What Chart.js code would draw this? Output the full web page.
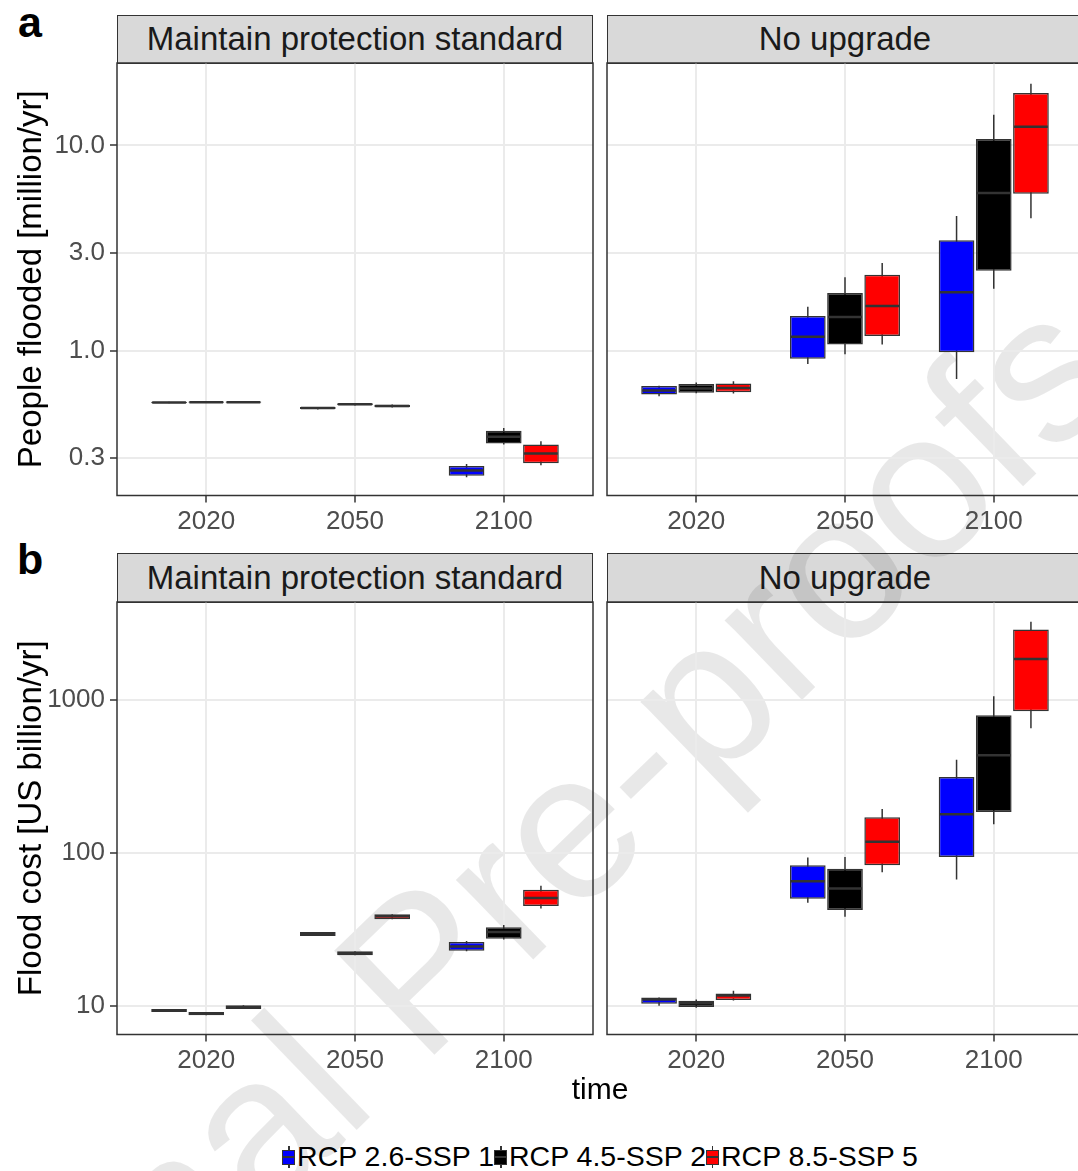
<!DOCTYPE html>
<html>
<head>
<meta charset="utf-8">
<script src="https://cdn.jsdelivr.net/npm/chart.js@4.4.1/dist/chart.umd.min.js"></script>
<style>
  body { margin: 0; background: #fff; font-family: "Liberation Sans", Arial, sans-serif; }
  #page { position: relative; width: 1078px; height: 1171px; overflow: hidden; background: #fff; }
  .strip { position: absolute; box-sizing: border-box; background: #d9d9d9; border: 1.5px solid #333;
           color: #1a1a1a; font-size: 33px; text-align: center; z-index: 1; }
  .tag { position: absolute; font-weight: bold; font-size: 43px; color: #000; z-index: 3; }
  canvas { position: absolute; z-index: 3; }
  #watermark { position: absolute; left: 456px; top: 934px; transform: translate(-50%, -50%) rotate(-44deg);
               font-size: 210px; color: rgba(0,0,0,0.09); white-space: nowrap; z-index: 2; }
  #xtitle { position: absolute; left: 117px; width: 966px; top: 1072px; text-align: center; font-size: 30px; color: #000; z-index: 3; }
  #legend { position: absolute; left: 117px; width: 966px; top: 1140px; display: flex; justify-content: center;
            align-items: center; font-size: 28.5px; color: #000; z-index: 3; }
  .item { display: flex; align-items: center; }
  .key { position: relative; width: 13px; height: 24px; margin-right: 2px; }
  .key .wh { position: absolute; left: 6px; top: 1px; width: 1.5px; height: 22px; background: #333; }
  .key .bx { position: absolute; left: 0; top: 5px; width: 13px; height: 15px; box-sizing: border-box; border: 1px solid #333; }
  .key .md { position: absolute; left: 0; top: 11.5px; width: 13px; height: 2px; background: #333; }
</style>
</head>
<body>
<div id="page">
  <div class="tag" style="left:18px; top:-2px;">a</div>
  <div class="tag" style="left:17px; top:535px;">b</div>

  <div class="strip" style="left:117px; top:15px; width:476px; height:49px; line-height:46px;">Maintain protection standard</div>
  <div class="strip" style="left:607px; top:15px; width:476px; height:49px; line-height:46px;">No upgrade</div>
  <div class="strip" style="left:117px; top:553px; width:476px; height:50px; line-height:47px;">Maintain protection standard</div>
  <div class="strip" style="left:607px; top:553px; width:476px; height:50px; line-height:47px;">No upgrade</div>

  <div id="watermark">Journal Pre-proofs</div>

  <canvas id="aLeft" width="596" height="490" style="left:0; top:60px;"></canvas>
  <canvas id="aRight" width="482" height="490" style="left:604px; top:60px;"></canvas>
  <canvas id="bLeft" width="596" height="490" style="left:0; top:599px;"></canvas>
  <canvas id="bRight" width="482" height="490" style="left:604px; top:599px;"></canvas>

  <div id="xtitle">time</div>
  <div id="legend"></div>
</div>

<script>
const years = ["2020", "2050", "2100"];
const scenarios = ["RCP 2.6-SSP 1", "RCP 4.5-SSP 2", "RCP 8.5-SSP 5"];
const scenarioColors = ["#0000ff", "#000000", "#ff0000"];

// each box is [lower whisker, q1, median, q3, upper whisker], one per year
// People flooded [million/yr], maintain protection standard
const peopleMaintain26 = [[0.556, 0.556, 0.560, 0.564, 0.564], [0.518, 0.520, 0.527, 0.532, 0.533], [0.242, 0.246, 0.261, 0.275, 0.281]];
const peopleMaintain45 = [[0.558, 0.558, 0.562, 0.566, 0.566], [0.541, 0.543, 0.549, 0.556, 0.557], [0.350, 0.354, 0.381, 0.408, 0.421]];
const peopleMaintain85 = [[0.558, 0.558, 0.562, 0.566, 0.566], [0.529, 0.531, 0.539, 0.546, 0.547], [0.277, 0.283, 0.316, 0.350, 0.363]];

// People flooded [million/yr], no upgrade
const peopleNoUpgrade26 = [[0.600, 0.612, 0.641, 0.674, 0.676], [0.863, 0.915, 1.172, 1.477, 1.640], [0.728, 0.985, 1.928, 3.456, 4.53]];
const peopleNoUpgrade45 = [[0.622, 0.624, 0.656, 0.690, 0.701], [0.962, 1.072, 1.460, 1.913, 2.278], [2.005, 2.451, 5.867, 10.76, 14.1]];
const peopleNoUpgrade85 = [[0.619, 0.629, 0.659, 0.693, 0.711], [1.072, 1.181, 1.653, 2.349, 2.679], [4.425, 5.82, 12.32, 17.99, 19.97]];

// Flood cost [US billion/yr], maintain protection standard
const costMaintain26 = [[9.08, 9.08, 9.30, 9.53, 9.53], [28.6, 28.6, 29.4, 30.3, 30.3], [22.7, 22.9, 24.4, 26.1, 26.5]];
const costMaintain45 = [[8.65, 8.65, 8.87, 9.08, 9.08], [21.4, 21.4, 22.0, 22.7, 22.7], [27.1, 27.4, 30.3, 32.6, 33.7]];
const costMaintain85 = [[9.53, 9.53, 9.78, 10.05, 10.05], [36.7, 36.7, 38.5, 39.6, 39.6], [43.2, 44.8, 50.7, 57.3, 60.8]];

// Flood cost [US billion/yr], no upgrade
const costNoUpgrade26 = [[10.0, 10.28, 10.96, 11.3, 11.3], [47.2, 50.1, 65.2, 82.9, 93.3], [66.9, 93.8, 178.3, 312.8, 406.5]];
const costNoUpgrade45 = [[9.7, 9.79, 10.38, 10.78, 10.96], [38.1, 42.2, 58.5, 78.6, 93.8], [153.5, 185.0, 433.6, 794.3, 1054]];
const costNoUpgrade85 = [[10.8, 10.9, 11.67, 12.0, 12.5], [74.5, 82.9, 118.1, 170.9, 193.2], [651, 843, 1849, 2884, 3248]];

// y axis breaks (log scale)
const peopleTicks = [0.1, 0.3, 1, 3, 10, 30];
const costTicks = [1, 10, 100, 1000, 10000];

Chart.defaults.font.family = "'Liberation Sans', Arial, sans-serif";

const boxPlugin = {
  id: "boxDecor",
  beforeDatasetsDraw(chart) {
    const ctx = chart.ctx, y = chart.scales.y, area = chart.chartArea;
    ctx.save();
    ctx.beginPath();
    ctx.rect(area.left, area.top, area.right - area.left, area.bottom - area.top);
    ctx.clip();
    ctx.strokeStyle = "#333";
    ctx.lineWidth = 1.5;
    chart.data.datasets.forEach((ds, i) => {
      chart.getDatasetMeta(i).data.forEach((bar, j) => {
        const s = ds.stats[j];
        ctx.beginPath();
        ctx.moveTo(bar.x, y.getPixelForValue(s[0]));
        ctx.lineTo(bar.x, y.getPixelForValue(s[4]));
        ctx.stroke();
      });
    });
    ctx.restore();
  },
  afterDatasetsDraw(chart) {
    const ctx = chart.ctx, y = chart.scales.y;
    ctx.save();
    ctx.strokeStyle = "#333";
    ctx.lineWidth = 2.5;
    chart.data.datasets.forEach((ds, i) => {
      chart.getDatasetMeta(i).data.forEach((bar, j) => {
        const py = y.getPixelForValue(ds.stats[j][2]);
        ctx.beginPath();
        ctx.moveTo(bar.x - bar.width / 2 + 1, py);
        ctx.lineTo(bar.x + bar.width / 2 - 1, py);
        ctx.stroke();
      });
    });
    ctx.restore();
  },
  afterDraw(chart) {
    const ctx = chart.ctx, a = chart.chartArea;
    ctx.save();
    ctx.strokeStyle = "#333";
    ctx.lineWidth = 1.5;
    ctx.strokeRect(a.left, a.top, a.right - a.left, a.bottom - a.top);
    ctx.restore();
  }
};

function makePanel(id, boxes, breaks, fmt, yMin, yMax, yTitle) {
  const majors = breaks;
  const minors = breaks.slice(1).map((b, k) => Math.sqrt(b * breaks[k]));
  const majorSet = new Set(majors);
  const left = !!yTitle;
  const tickValues = majors.concat(minors).filter((v) => v >= yMin && v <= yMax).sort((p, q) => p - q);

  new Chart(document.getElementById(id), {
    type: "bar",
    data: {
      datasets: boxes.map((series, i) => ({
        label: scenarios[i],
        data: series.map((b, k) => ({ x: k + 1, y: [b[1], b[3]] })),
        stats: series,
        backgroundColor: scenarioColors[i],
        borderColor: "#333",
        borderWidth: 1.5,
        borderSkipped: false,
        categoryPercentage: 0.75,
        barPercentage: 0.96
      }))
    },
    options: {
      responsive: false,
      animation: false,
      layout: { autoPadding: false, padding: { top: 3, right: 3, left: 0, bottom: 0 } },
      plugins: { legend: { display: false }, tooltip: { enabled: false } },
      scales: {
        x: {
          type: "linear",
          min: 0.4,
          max: 3.6,
          offset: false,
          afterBuildTicks: (s) => { s.ticks = years.map((_, k) => ({ value: k + 1 })); },
          afterFit: (s) => { s.height = 54.5; },
          ticks: { callback: (v) => years[v - 1], color: "#4d4d4d", font: { size: 26 }, padding: 4, maxRotation: 0 },
          grid: { offset: false, color: "#ebebeb", lineWidth: 2, tickColor: "#333", tickLength: 7, tickWidth: 1.5 },
          border: { display: false }
        },
        y: {
          type: "logarithmic",
          min: yMin,
          max: yMax,
          afterBuildTicks: (s) => { s.ticks = tickValues.map((v) => ({ value: v })); },
          afterFit: (s) => {
            s.width = left ? 117 : 3;
            s.paddingTop = 0;
            s.paddingBottom = 0;
          },
          title: { display: left, text: yTitle || "", color: "#000", font: { size: 33 }, padding: { top: 12, bottom: 0 } },
          ticks: {
            display: left,
            color: "#4d4d4d",
            font: { size: 26 },
            padding: 5,
            autoSkip: false,
            callback: (v) => (majorSet.has(v) ? fmt(v) : null)
          },
          grid: {
            color: "#ebebeb",
            lineWidth: (c) => (c.tick && majorSet.has(c.tick.value) ? 2 : 1.2),
            drawTicks: left,
            tickColor: (c) => (c.tick && majorSet.has(c.tick.value) ? "#333" : "rgba(0,0,0,0)"),
            tickLength: 7,
            tickWidth: 1.5
          },
          border: { display: false }
        }
      }
    },
    plugins: [boxPlugin]
  });
}

const peopleFmt = (v) => v.toFixed(1);
const costFmt = (v) => String(v);

makePanel("aLeft", [peopleMaintain26, peopleMaintain45, peopleMaintain85], peopleTicks, peopleFmt, 0.1974, 25.2, "People flooded [million/yr]");
makePanel("aRight", [peopleNoUpgrade26, peopleNoUpgrade45, peopleNoUpgrade85], peopleTicks, peopleFmt, 0.1974, 25.2, null);
makePanel("bLeft", [costMaintain26, costMaintain45, costMaintain85], costTicks, costFmt, 6.48, 4365, "Flood cost [US billion/yr]");
makePanel("bRight", [costNoUpgrade26, costNoUpgrade45, costNoUpgrade85], costTicks, costFmt, 6.48, 4365, null);

// legend
const legend = document.getElementById("legend");
scenarios.forEach((name, i) => {
  const item = document.createElement("span");
  item.className = "item";
  item.innerHTML = '<span class="key"><span class="wh"></span><span class="bx" style="background:' +
    scenarioColors[i] + '"></span><span class="md"></span></span>' + name;
  legend.appendChild(item);
});
</script>
</body>
</html>
